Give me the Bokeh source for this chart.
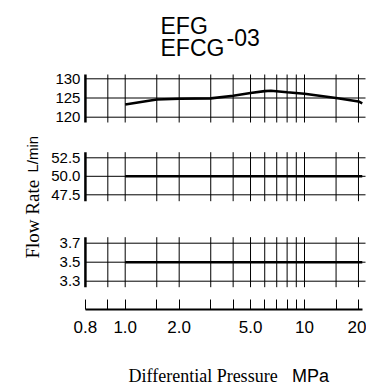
import math
from bokeh.plotting import figure
from bokeh.models import Range1d, LinearScale, FixedTicker, ColumnDataSource, LabelSet, Label
from bokeh.core.properties import value
from bokeh.embed import file_html
from bokeh.resources import INLINE

# ---------------- data ----------------
pressure_grid = [0.8, 1.0, 1.5, 2.0, 3.0, 4.0, 5.0, 6.0, 7.0, 8.0, 9.0, 10.0, 15.0, 20.0]
pressure_label_at = [0.6, 1.0, 2.0, 5.0, 10.0, 20.0]
pressure_labels = ["0.8", "1.0", "2.0", "5.0", "10", "20"]
axis_start = 0.6
axis_end = 21.0

top_ticks = [120.0, 125.0, 130.0]
top_tick_labels = ["120", "125", "130"]
top_pressure = [1.0, 1.5, 2.0, 3.0, 4.0, 5.0, 6.0, 6.5, 8.0, 10.0, 15.0, 20.0, 21.0]
top_flow = [123.3, 124.6, 124.8, 124.9, 125.6, 126.3, 126.8, 126.9, 126.5, 126.1, 125.0, 124.1, 123.6]

mid_ticks = [47.5, 50.0, 52.5]
mid_tick_labels = ["47.5", "50.0", "52.5"]
mid_pressure = [1.0, 21.0]
mid_flow = [50.0, 50.0]

bot_ticks = [3.3, 3.5, 3.7]
bot_tick_labels = ["3.3", "3.5", "3.7"]
bot_pressure = [1.0, 21.0]
bot_flow = [3.5, 3.5]

# ---------------- layout (page pixel geometry) ----------------
W, H = 366, 385
X_ONE, PX_DEC = 124.7, 179.3
AXIS_Y = 309.3


def pv(px):
    return 10 ** ((px - X_ONE) / PX_DEC)


p = figure(width=W, height=H, x_axis_type="log",
           x_range=Range1d(pv(0), pv(W)), y_range=Range1d(H, 0),
           y_axis_location=None, output_backend="svg", toolbar_location=None,
           min_border_left=0, min_border_right=0, min_border_top=0, min_border_bottom=0)
p.outline_line_color = None
p.xgrid.visible = False
p.ygrid.visible = False
p.background_fill_color = "white"
p.border_fill_color = "white"
p.extra_x_ranges = {"px": Range1d(0, W)}
p.extra_x_scales = {"px": LinearScale()}

panels = [
    # name, ticks, labels, xs, ys, hi_px, lo_px, ext_above, ext_below
    ("top", top_ticks, top_tick_labels, top_pressure, top_flow, 78.3, 116.7, 4.3, 5.3),
    ("mid", mid_ticks, mid_tick_labels, mid_pressure, mid_flow, 157.3, 194.3, 5.6, 6.4),
    ("bot", bot_ticks, bot_tick_labels, bot_pressure, bot_flow, 242.7, 280.7, 6.0, 6.0),
]

extra = {}
for name, ticks, labels, xs, ys, hi_px, lo_px, ea, eb in panels:
    hi, lo = max(ticks), min(ticks)
    ppu = (lo_px - hi_px) / (hi - lo)
    extra[name] = Range1d(lo - (H - lo_px) / ppu, hi + hi_px / ppu)
p.extra_y_ranges = extra

x_far = pv(365)
for name, ticks, labels, xs, ys, hi_px, lo_px, ea, eb in panels:
    hi, lo = max(ticks), min(ticks)
    ppu = (lo_px - hi_px) / (hi - lo)
    v_top = hi + ea / ppu
    v_bot = lo - eb / ppu
    n = len(pressure_grid)
    p.segment(x0=pressure_grid, x1=pressure_grid, y0=[v_bot] * n, y1=[v_top] * n,
              line_color="black", line_width=1, y_range_name=name)
    k = len(ticks)
    p.segment(x0=[axis_start] * k, x1=[x_far] * k, y0=ticks, y1=ticks,
              line_color="black", line_width=1, y_range_name=name)
    p.segment(x0=[axis_start], x1=[axis_start], y0=[v_bot], y1=[v_top],
              line_color="black", line_width=2.5, y_range_name=name)
    p.line(xs, ys, line_color="black", line_width=2.6, y_range_name=name)
    src = ColumnDataSource(dict(x=[axis_start] * k, y=ticks, t=labels))
    p.add_layout(LabelSet(x="x", y="y", text="t", source=src, y_range_name=name,
                          x_offset=-5, text_align="right", text_baseline="middle",
                          text_font=value("Liberation Sans"), text_font_size=value("15px"),
                          text_color="black"))

# bottom axis (placed inside the canvas-wide frame)
minor = [v for v in pressure_grid if v not in pressure_label_at]
ax = p.xaxis[0]
ax.fixed_location = AXIS_Y
ax.ticker = FixedTicker(ticks=pressure_label_at, minor_ticks=minor)
ax.major_label_overrides = dict(zip(pressure_label_at, pressure_labels))
ax.bounds = (axis_start, axis_end)
ax.axis_line_width = 2
ax.axis_line_color = "black"
ax.major_tick_in = 10
ax.major_tick_out = 0
ax.minor_tick_in = 10
ax.minor_tick_out = 0
ax.major_tick_line_color = "black"
ax.minor_tick_line_color = "black"
ax.major_tick_line_width = 1
ax.minor_tick_line_width = 1
ax.major_label_text_font = "Liberation Sans"
ax.major_label_text_font_size = "17px"
ax.major_label_text_color = "black"
ax.major_label_standoff = 11


def lab(text, x, y, size, font="Liberation Sans", angle=0.0):
    p.add_layout(Label(x=x, y=y, text=text, x_range_name="px",
                       text_font=font, text_font_size=size, text_color="black",
                       text_align="left", text_baseline="alphabetic", angle=angle))


lab("EFG", 160, 25, "23px")
lab("EFCG", 160, 47, "23px")
lab("-03", 226, 37, "23px")
lab("Differential Pressure", 128, 375, "18px", font="Liberation Serif")
lab("MPa", 291.5, 375, "18px")
lab("Flow Rate", 32, 258, "19px", font="Liberation Serif", angle=math.pi / 2)
lab("L/min", 32, 172, "15px", angle=math.pi / 2)

open("out.html", "w").write(file_html(p, INLINE))
